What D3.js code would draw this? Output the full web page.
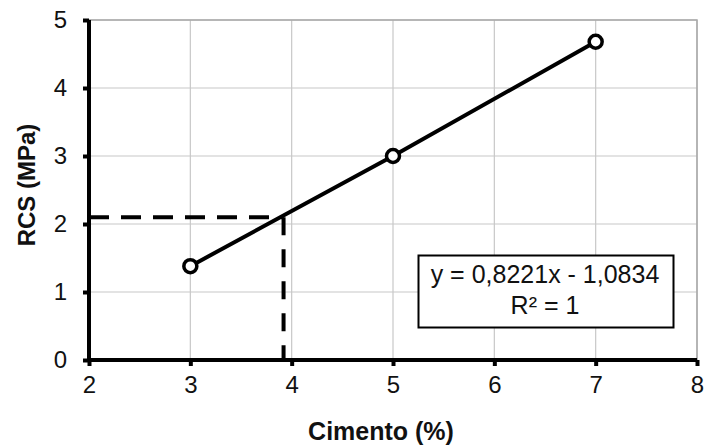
<!DOCTYPE html>
<html>
<head>
<meta charset="utf-8">
<script src="https://cdn.jsdelivr.net/npm/d3@7"></script>
<style>
  html, body { margin: 0; padding: 0; background: #fff; }
  svg { display: block; font-family: Arial, "Liberation Sans", sans-serif; }
</style>
</head>
<body>
<svg id="chart" width="704" height="448"></svg>
<script>
// Cement content (%) vs. unconfined compressive strength (MPa)
const cimento = [3, 5, 7];
const rcs = [1.38, 3.0, 4.68];
const xTicks = [2, 3, 4, 5, 6, 7, 8];
const yTicks = [0, 1, 2, 3, 4, 5];
// Reading of the target strength on the fitted line
const guideX = [3.92];
const guideY = [2.1];
const eqLines = ["y = 0,8221x - 1,0834", "R² = 1"];

const svg = d3.select("#chart");
const m = { left: 89, right: 697, top: 20, bottom: 360 };

const x = d3.scaleLinear().domain([2, 8]).range([m.left, m.right]);
const y = d3.scaleLinear().domain([0, 5]).range([m.bottom, m.top]);

// grid
const grid = svg.append("g").attr("stroke", "#c8c8c8").attr("stroke-width", 1.2);
grid.selectAll(".vx").data(xTicks.slice(1)).enter().append("line")
  .attr("x1", d => x(d)).attr("x2", d => x(d))
  .attr("y1", m.top).attr("y2", m.bottom);
grid.selectAll(".hy").data(yTicks.slice(1)).enter().append("line")
  .attr("x1", m.left).attr("x2", m.right)
  .attr("y1", d => y(d)).attr("y2", d => y(d));
// plot border top/right
svg.append("path")
  .attr("d", `M${m.left},${m.top}H${m.right}V${m.bottom}`)
  .attr("fill", "none").attr("stroke", "#a8a8a8").attr("stroke-width", 1.5);

// axes
const fmt = d3.format("d");
const xAxis = svg.append("g").attr("transform", `translate(0,${m.bottom})`)
  .call(d3.axisBottom(x).tickValues(xTicks).tickFormat(fmt).tickSize(6).tickPadding(10).tickSizeOuter(0));
const yAxis = svg.append("g").attr("transform", `translate(${m.left},0)`)
  .call(d3.axisLeft(y).tickValues(yTicks).tickFormat(fmt).tickSize(6).tickPadding(16).tickSizeOuter(0));
[xAxis, yAxis].forEach(a => {
  a.select(".domain").attr("stroke", "#000").attr("stroke-width", 4);
  a.selectAll(".tick line").attr("stroke", "#000").attr("stroke-width", 4);
  a.selectAll(".tick text").attr("fill", "#111").style("font-size", "24px")
    .style("font-family", "Arial, 'Liberation Sans', sans-serif");
});
xAxis.select(".domain").attr("d", `M${m.left - 2},0H${m.right}`);
yAxis.select(".domain").attr("d", `M0,${m.top}V${m.bottom + 2}`);

// guide dashes
svg.append("line")
  .attr("x1", x(2)).attr("x2", x(guideX[0]))
  .attr("y1", y(guideY[0])).attr("y2", y(guideY[0]))
  .attr("stroke", "#000").attr("stroke-width", 4).attr("stroke-dasharray", "20 12");
svg.append("line")
  .attr("x1", x(guideX[0])).attr("x2", x(guideX[0]))
  .attr("y1", y(guideY[0])).attr("y2", y(0))
  .attr("stroke", "#000").attr("stroke-width", 4).attr("stroke-dasharray", "18 14");

// data line and markers
const pts = cimento.map((c, i) => [c, rcs[i]]);
svg.append("path").datum(pts)
  .attr("d", d3.line().x(d => x(d[0])).y(d => y(d[1])))
  .attr("fill", "none").attr("stroke", "#000").attr("stroke-width", 4);
svg.selectAll(".pt").data(pts).enter().append("circle")
  .attr("cx", d => x(d[0])).attr("cy", d => y(d[1])).attr("r", 6.5)
  .attr("fill", "#fff").attr("stroke", "#000").attr("stroke-width", 3.5);

// equation box
svg.append("rect").attr("x", 418.5).attr("y", 255.5).attr("width", 255).attr("height", 72)
  .attr("fill", "#fff").attr("stroke", "#000").attr("stroke-width", 2);
svg.selectAll(".eq").data(eqLines).enter().append("text")
  .attr("x", 545).attr("y", (d, i) => 283 + i * 31)
  .attr("text-anchor", "middle").attr("fill", "#111")
  .style("font-size", "25px").text(d => d);

// axis titles
svg.append("text").attr("x", 381).attr("y", 440)
  .attr("text-anchor", "middle").style("font-size", "25px").style("font-weight", "bold")
  .attr("fill", "#111").text("Cimento (%)");
svg.append("text").attr("transform", `translate(35,${(m.top + m.bottom) / 2 - 5}) rotate(-90)`)
  .attr("text-anchor", "middle").style("font-size", "24px").style("font-weight", "bold")
  .attr("fill", "#111").text("RCS (MPa)");
</script>
</body>
</html>
